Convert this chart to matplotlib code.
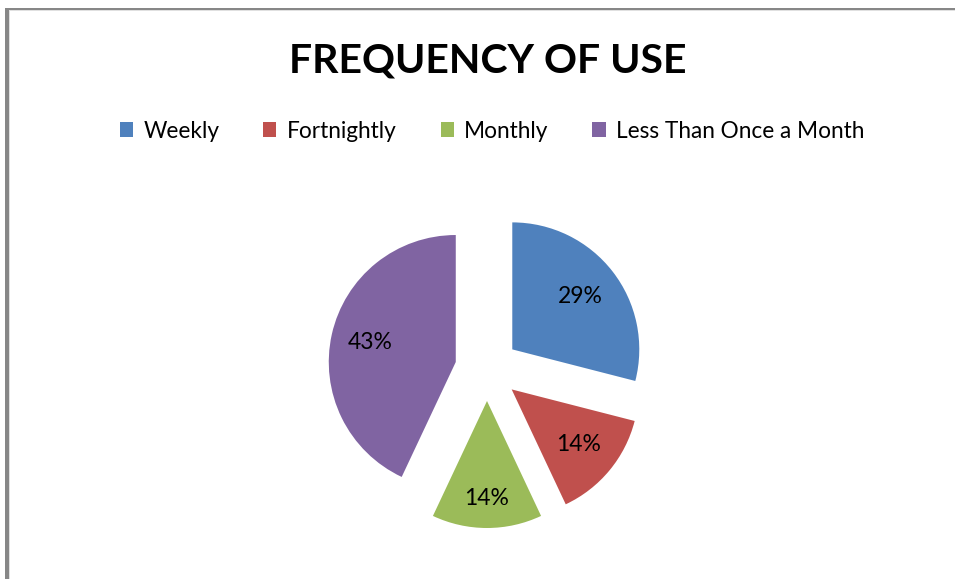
import matplotlib.pyplot as plt
import numpy as np
from matplotlib.patches import Rectangle

categories = ["Weekly", "Fortnightly", "Monthly", "Less Than Once a Month"]
shares = [29, 14, 14, 43]
colors = ["#4F81BD", "#C0504D", "#9BBB59", "#8064A2"]
label_dist = [0.68, 0.68, 0.77, 0.69]

W, H = 955, 579
plt.rcParams['font.family'] = ['Lato', 'DejaVu Sans']

fig = plt.figure(figsize=(W / 100, H / 100), dpi=100)
ax = fig.add_axes([0, 0, 1, 1])

# pie in pixel units, explode is absolute offset
wedges, _ = ax.pie(shares, colors=colors, startangle=90, counterclock=False,
                   explode=[32] * len(shares), radius=127,
                   center=(487, H - 369), frame=True)

for w, s, d in zip(wedges, shares, label_dist):
    tm = np.deg2rad((w.theta1 + w.theta2) / 2)
    cx, cy = w.center
    ax.text(cx + d * w.r * np.cos(tm), cy + d * w.r * np.sin(tm), f"{s}%",
            ha='center', va='center', fontsize=16.5, color='black')

ax.text(487.5, H - 61, "FREQUENCY OF USE", ha='center', va='center',
        fontsize=29.5, fontweight='bold')

fig.legend(wedges, categories, loc='center', ncol=4, frameon=False,
           bbox_to_anchor=(492 / W, 1 - 131 / H), fontsize=16.3,
           handlelength=0.58, handleheight=0.58, handletextpad=0.45,
           columnspacing=1.95)

# outer frame (only top and left visible)
ax.add_patch(Rectangle((5, 0), 3.5, H - 7.5, color="#878787", lw=0))
ax.add_patch(Rectangle((5, H - 10), W, 2.5, color="#878787", lw=0))
ax.add_patch(Rectangle((8.5, 0), 1, H - 10, color="#e0e0e0", lw=0))
ax.add_patch(Rectangle((8.5, H - 11), W, 1, color="#e0e0e0", lw=0))

ax.set_xlim(0, W)
ax.set_ylim(0, H)
ax.set_aspect('auto')
ax.axis('off')

fig.savefig("out.png", dpi=100)
